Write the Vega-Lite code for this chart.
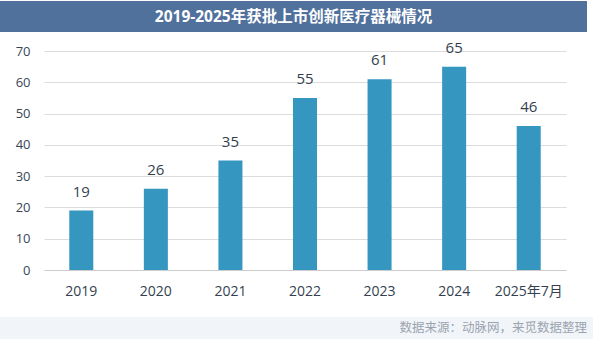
{
  "$schema": "https://vega.github.io/schema/vega-lite/v6.json",
  "padding": {"top": 1, "left": 0, "right": 0, "bottom": 0},
  "background": "#ffffff",
  "spacing": 0,
  "config": {
    "view": {"stroke": null},
    "font": "Open Sans, Noto Sans CJK SC",
    "concat": {"spacing": 0}
  },
  "vconcat": [
    {
      "width": 543,
      "height": 31,
      "view": {"fill": "#51719d", "stroke": null},
      "data": {"values": [{"title": "2019-2025年获批上市创新医疗器械情况"}]},
      "mark": {"type": "text", "color": "#ffffff", "fontSize": 15.5, "fontWeight": "bold", "dx": -22, "font": "Open Sans, Noto Sans CJK SC"},
      "encoding": {
        "text": {"field": "title"},
        "y": {
          "datum": 0, "type": "quantitative",
          "scale": {"domain": [-1, 1]},
          "axis": {"labels": false, "ticks": false, "grid": false, "title": null, "domain": true, "domainWidth": 88, "domainColor": "#51719d", "domainCap": "butt", "translate": 0}
        }
      }
    },
    {
      "width": 522,
      "height": 219,
      "data": {"values": [
        {"year": "2019", "count": 19},
        {"year": "2020", "count": 26},
        {"year": "2021", "count": 35},
        {"year": "2022", "count": 55},
        {"year": "2023", "count": 61},
        {"year": "2024", "count": 65},
        {"year": "2025年7月", "count": 46}
      ]},
      "encoding": {
        "x": {
          "field": "year", "type": "nominal", "sort": null,
          "scale": {"paddingInner": 0.678, "paddingOuter": 0.339},
          "axis": {
            "labelAngle": 0, "labelFontSize": 14, "labelColor": "#333f4f", "labelPadding": 14,
            "ticks": false, "grid": false, "domainColor": "#cccccc", "domainWidth": 1,
            "title": ".", "titleFontSize": 1, "titleColor": "#ffffff", "titleAngle": 0,
            "titleX": 0, "titleY": 47, "titleAlign": "left", "titleBaseline": "bottom"
          }
        },
        "y": {
          "field": "count", "type": "quantitative",
          "scale": {"domain": [0, 70]},
          "axis": {
            "values": [0, 10, 20, 30, 40, 50, 60, 70],
            "labelFontSize": 13, "labelColor": "#3a4656", "labelPadding": 14,
            "ticks": false, "domain": false, "gridColor": "#dcdcdc", "gridWidth": 1,
            "title": ".", "titleFontSize": 1, "titleColor": "#ffffff", "titleAngle": 0,
            "titleX": -44, "titleY": -19, "titleAlign": "left", "titleBaseline": "top"
          }
        }
      },
      "layer": [
        {"mark": {"type": "bar", "color": "#3596c0"}},
        {
          "mark": {"type": "text", "dy": -14, "baseline": "alphabetic", "fontSize": 15, "color": "#333f4f"},
          "encoding": {"text": {"field": "count", "type": "quantitative"}}
        }
      ]
    },
    {
      "width": 549,
      "height": 22,
      "view": {"fill": "#f1f5fa", "stroke": null},
      "data": {"values": [{"source": "数据来源：动脉网，来觅数据整理"}]},
      "mark": {"type": "text", "align": "right", "dx": 268.5, "baseline": "middle", "fontSize": 12.5, "color": "#9ba4ae", "font": "Noto Sans CJK SC"},
      "encoding": {
        "text": {"field": "source"},
        "y": {
          "datum": 0, "type": "quantitative",
          "scale": {"domain": [-1, 1]},
          "axis": {"labels": false, "ticks": false, "grid": false, "title": null, "domain": true, "domainWidth": 88, "domainColor": "#f1f5fa", "domainCap": "butt", "translate": 0}
        }
      }
    }
  ]
}
